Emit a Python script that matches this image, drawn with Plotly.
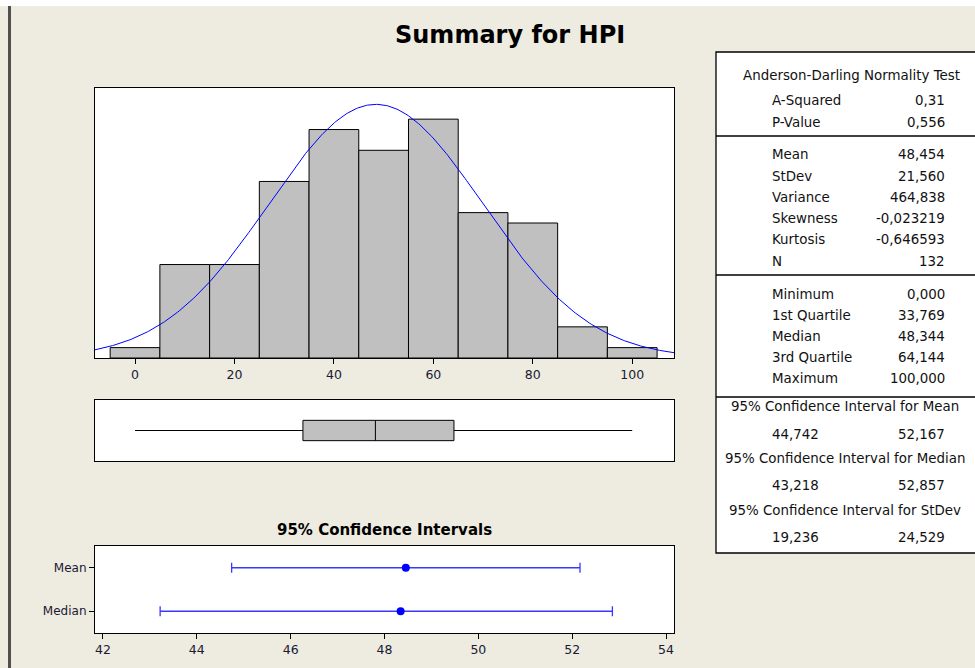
import numpy as np
import plotly.graph_objects as go

W, H = 975, 668

# ---------------- data ----------------
bin_centers = [0, 10, 20, 30, 40, 50, 60, 70, 80, 90, 100]
bin_counts = [1, 9, 9, 17, 22, 20, 23, 14, 13, 3, 1]
bin_width = 10

n_obs = 132
mean_val = 48.454
stdev_val = 21.560

box_min = 0.0
box_q1 = 33.769
box_median = 48.344
box_q3 = 64.144
box_max = 100.0

ci_labels = ["Mean", "Median"]
ci_center = [48.454, 48.344]
ci_low = [44.742, 43.218]
ci_high = [52.167, 52.857]

hist_ticks = [0, 20, 40, 60, 80, 100]
ci_ticks = [42, 44, 46, 48, 50, 52, 54]

ad_labels = ["A-Squared", "P-Value"]
ad_values = ["0,31", "0,556"]
mom_labels = ["Mean", "StDev", "Variance", "Skewness", "Kurtosis", "N"]
mom_values = ["48,454", "21,560", "464,838", "-0,023219", "-0,646593", "132"]
q_labels = ["Minimum", "1st Quartile", "Median", "3rd Quartile", "Maximum"]
q_values = ["0,000", "33,769", "48,344", "64,144", "100,000"]
ci_titles = ["95% Confidence Interval for Mean",
             "95% Confidence Interval for Median",
             "95% Confidence Interval for StDev"]
ci_table_low = ["44,742", "43,218", "19,236"]
ci_table_high = ["52,167", "52,857", "24,529"]

# ---------------- helpers ----------------
def px(x):
    return x / W

def py(y):
    return 1 - y / H

FONT = "DejaVu Sans"
TXT = "#111111"

fig = go.Figure()

# histogram
fig.add_trace(go.Bar(
    x=bin_centers, y=bin_counts, width=bin_width,
    marker=dict(color="#C0C0C0", line=dict(color="black", width=1)),
    xaxis="x", yaxis="y", showlegend=False, hoverinfo="skip"))

# fitted normal curve (from displayed mean / stdev)
xr = (-8.05, 108.4)
xs = np.linspace(xr[0], xr[1], 400)
ys = n_obs * bin_width * np.exp(-0.5 * ((xs - mean_val) / stdev_val) ** 2) / (stdev_val * np.sqrt(2 * np.pi))
fig.add_trace(go.Scatter(x=xs, y=ys, mode="lines", line=dict(color="#0000FF", width=1),
                         xaxis="x", yaxis="y", showlegend=False, hoverinfo="skip"))

# box plot
fig.add_trace(go.Box(
    y=[0], q1=[box_q1], median=[box_median], q3=[box_q3],
    lowerfence=[box_min], upperfence=[box_max],
    orientation="h", width=1.0, whiskerwidth=0,
    fillcolor="#C0C0C0", line=dict(color="black", width=1),
    boxpoints=False, xaxis="x2", yaxis="y2", showlegend=False, hoverinfo="skip"))

# confidence intervals
ci_y = [1, 0]
fig.add_trace(go.Scatter(
    x=ci_center, y=ci_y, mode="markers",
    marker=dict(color="#0000FF", size=8),
    error_x=dict(type="data", symmetric=False,
                 array=[h - c for h, c in zip(ci_high, ci_center)],
                 arrayminus=[c - l for c, l in zip(ci_center, ci_low)],
                 color="#3838FF", thickness=1.3, width=5),
    xaxis="x3", yaxis="y3", showlegend=False, hoverinfo="skip"))

xdom = [px(95), px(674)]
frame = dict(showline=True, mirror=True, linecolor="black", linewidth=1.2,
             showgrid=False, zeroline=False)

fig.update_layout(
    width=W, height=H,
    margin=dict(l=0, r=0, t=0, b=0),
    paper_bgcolor="#EEEBE1",
    plot_bgcolor="white",
    font=dict(family=FONT, color=TXT, size=12),
    xaxis=dict(domain=xdom, range=list(xr), tickvals=hist_ticks,
               ticks="outside", ticklen=5, tickcolor="black",
               tickfont=dict(size=12.5, family=FONT, color="#1a1a33"), anchor="y", **frame),
    yaxis=dict(domain=[py(358), py(88)], range=[0, 26], showticklabels=False,
               ticks="", anchor="x", **frame),
    xaxis2=dict(domain=xdom, range=list(xr), showticklabels=False, ticks="",
                anchor="y2", **frame),
    yaxis2=dict(domain=[py(461), py(400)], range=[-1.5, 1.5], showticklabels=False,
                ticks="", anchor="x2", **frame),
    xaxis3=dict(domain=xdom, range=[41.83, 54.17], tickvals=ci_ticks,
                ticks="outside", ticklen=5, tickcolor="black",
                tickfont=dict(size=12.5, family=FONT, color="#1a1a33"), anchor="y3", **frame),
    yaxis3=dict(domain=[py(633), py(546)], range=[-0.5, 1.5], tickvals=ci_y,
                ticktext=ci_labels, ticks="outside", ticklen=5, tickcolor="black",
                tickfont=dict(size=12, family=FONT, color="#1a1a33"), anchor="x3", **frame),
)

shapes = []
# top white strip and left dark border
shapes.append(dict(type="rect", xref="paper", yref="paper", x0=0, x1=1, y0=py(6), y1=1.01,
                   fillcolor="white", line=dict(width=0), layer="below"))
shapes.append(dict(type="line", xref="paper", yref="paper", x0=px(9.5), x1=px(9.5),
                   y0=py(6), y1=-0.01, line=dict(color="#505050", width=3)))
# stats table box
shapes.append(dict(type="rect", xref="paper", yref="paper", x0=px(716), x1=px(990),
                   y0=py(553), y1=py(52), fillcolor="white",
                   line=dict(color="black", width=1.3), layer="below"))
for yy in [136, 275, 397]:
    shapes.append(dict(type="line", xref="paper", yref="paper", x0=px(716), x1=px(990),
                       y0=py(yy), y1=py(yy), line=dict(color="black", width=1.3)))
fig.update_layout(shapes=shapes)

ann = []
def text(x, y, s, anchor="left", size=13.4, bold=False):
    ann.append(dict(xref="paper", yref="paper", x=px(x), y=py(y),
                    text=("<b>%s</b>" % s) if bold else s, showarrow=False,
                    xanchor=anchor, yanchor="middle",
                    font=dict(family=FONT, size=size, color="black" if bold else TXT)))

text(510, 35, "Summary for HPI", "center", size=24, bold=True)
text(384, 530, "95% Confidence Intervals", "center", size=15, bold=True)

text(851, 75, "Anderson-Darling Normality Test", "center")
LX, RX = 770, 947
for i, (l, v) in enumerate(zip(ad_labels, ad_values)):
    yy = 101 + i * 21.5
    text(LX, yy, l, "left"); text(RX, yy, v, "right")
for i, (l, v) in enumerate(zip(mom_labels, mom_values)):
    yy = 155 + i * 21.2
    text(LX, yy, l, "left"); text(RX, yy, v, "right")
for i, (l, v) in enumerate(zip(q_labels, q_values)):
    yy = 294 + i * 21.2
    text(LX, yy, l, "left"); text(RX, yy, v, "right")
for i, (t, lo, hi) in enumerate(zip(ci_titles, ci_table_low, ci_table_high)):
    yt = 407 + i * 51.5
    text(845, yt, t, "center")
    text(LX, yt + 27, lo, "left")
    text(RX, yt + 27, hi, "right")

fig.update_layout(annotations=ann)
fig.write_html("out.html",
               config={"displayModeBar": False},
               post_script="document.body.style.margin='0';document.body.style.overflow='hidden';")
